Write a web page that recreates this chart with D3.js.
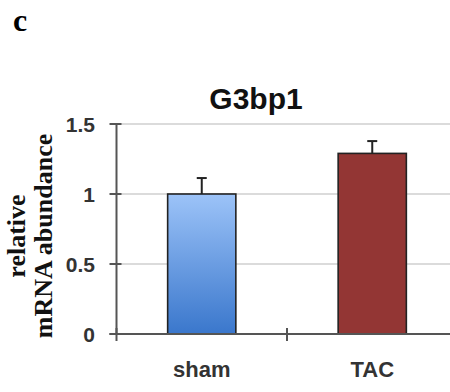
<!DOCTYPE html>
<html><head><meta charset="utf-8">
<script src="https://cdn.jsdelivr.net/npm/d3@7"></script>
<style>body{margin:0;background:#fff}svg{display:block}</style>
</head><body>
<script>
const categories = ["sham", "TAC"];
const values = [1.0, 1.29];
const errors = [0.114, 0.088];
const yTicks = [0, 0.5, 1, 1.5];
const yTickLabels = ["0", "0.5", "1", "1.5"];
const title = "G3bp1";
const panelLabel = "c";
const yLabelLines = ["relative", "mRNA abundance"];

const W = 450, H = 392;
const svg = d3.select("body").append("svg").attr("width", W).attr("height", H);
const defs = svg.append("defs");
const g1 = defs.append("linearGradient").attr("id","blueGrad").attr("x1",0).attr("y1",0).attr("x2",0).attr("y2",1);
g1.append("stop").attr("offset","0%").attr("stop-color","#9cc3f8");
g1.append("stop").attr("offset","100%").attr("stop-color","#3a77cc");

const x = d3.scaleBand().domain(categories).range([116.5, 457.5]).paddingInner(0.6).paddingOuter(0.3);
const y = d3.scaleLinear().domain([0, 1.5]).range([334, 124]);
const xLeft = 116.5, xRight = 457.5;

// gridlines
svg.append("g").selectAll("line").data(yTicks.filter(d => d > 0)).join("line")
  .attr("x1", xLeft).attr("x2", W).attr("y1", d => y(d)).attr("y2", d => y(d))
  .attr("stroke", "#cfcfcf").attr("stroke-width", 1.5);

// bars
const colors = ["url(#blueGrad)", "#933634"];
svg.append("g").selectAll("rect").data(categories).join("rect")
  .attr("x", d => x(d)).attr("width", x.bandwidth())
  .attr("y", (d,i) => y(values[i])).attr("height", (d,i) => y(0) - y(values[i]))
  .attr("fill", (d,i) => colors[i]).attr("stroke", "#222").attr("stroke-width", 1.6);

// error bars (upper only)
const eb = svg.append("g").attr("stroke", "#222").attr("stroke-width", 2);
categories.forEach((c,i) => {
  const cx = x(c) + x.bandwidth()/2;
  eb.append("line").attr("x1", cx).attr("x2", cx).attr("y1", y(values[i])).attr("y2", y(values[i]+errors[i]));
  eb.append("line").attr("x1", cx-5).attr("x2", cx+5).attr("y1", y(values[i]+errors[i])).attr("y2", y(values[i]+errors[i]));
});

// y axis
const axisColor = "#555";
svg.append("line").attr("x1", xLeft).attr("x2", xLeft).attr("y1", y(1.5)).attr("y2", y(0))
  .attr("stroke", axisColor).attr("stroke-width", 2);
svg.append("g").selectAll("line").data(yTicks).join("line")
  .attr("x1", xLeft-7).attr("x2", xLeft+5).attr("y1", d => y(d)).attr("y2", d => y(d))
  .attr("stroke", axisColor).attr("stroke-width", 2);
svg.append("g").selectAll("text").data(yTicks).join("text")
  .attr("x", 95).attr("y", d => y(d) + 8)
  .attr("text-anchor", "end").attr("font-family", "Liberation Sans, Arial, sans-serif")
  .attr("font-weight", "bold").attr("font-size", 21).attr("fill", "#333")
  .text((d,i) => yTickLabels[i]);

// x axis
svg.append("line").attr("x1", xLeft-7).attr("x2", W).attr("y1", y(0)).attr("y2", y(0))
  .attr("stroke", axisColor).attr("stroke-width", 2);
const step = x.step();
const boundaries = [xLeft, xLeft + step, xRight];
svg.append("g").selectAll("line").data(boundaries).join("line")
  .attr("x1", d => d).attr("x2", d => d).attr("y1", y(0)-6).attr("y2", y(0)+7)
  .attr("stroke", axisColor).attr("stroke-width", 2);
svg.append("g").selectAll("text").data(categories).join("text")
  .attr("x", d => x(d) + x.bandwidth()/2).attr("y", 377)
  .attr("text-anchor", "middle").attr("font-family", "Liberation Sans, Arial, sans-serif")
  .attr("font-weight", "bold").attr("font-size", 22).attr("fill", "#333")
  .text(d => d);

// title
svg.append("text").attr("x", 256).attr("y", 109).attr("text-anchor", "middle")
  .attr("font-family", "Liberation Sans, Arial, sans-serif").attr("font-weight", "bold")
  .attr("font-size", 30).attr("fill", "#111").text(title);

// y label
const yl = svg.append("text").attr("transform", "translate(0,236) rotate(-90)")
  .attr("text-anchor", "middle").attr("font-family", "Liberation Serif, Times New Roman, serif")
  .attr("font-weight", "bold").attr("font-size", 26).attr("fill", "#111");
yl.append("tspan").attr("x", 0).attr("y", 25).text(yLabelLines[0]);
yl.append("tspan").attr("x", 0).attr("y", 52).text(yLabelLines[1]);

// panel label
svg.append("text").attr("x", 13).attr("y", 31)
  .attr("font-family", "Liberation Serif, Times New Roman, serif").attr("font-weight", "bold")
  .attr("font-size", 32).attr("fill", "#000").text(panelLabel);
</script>
</body></html>
